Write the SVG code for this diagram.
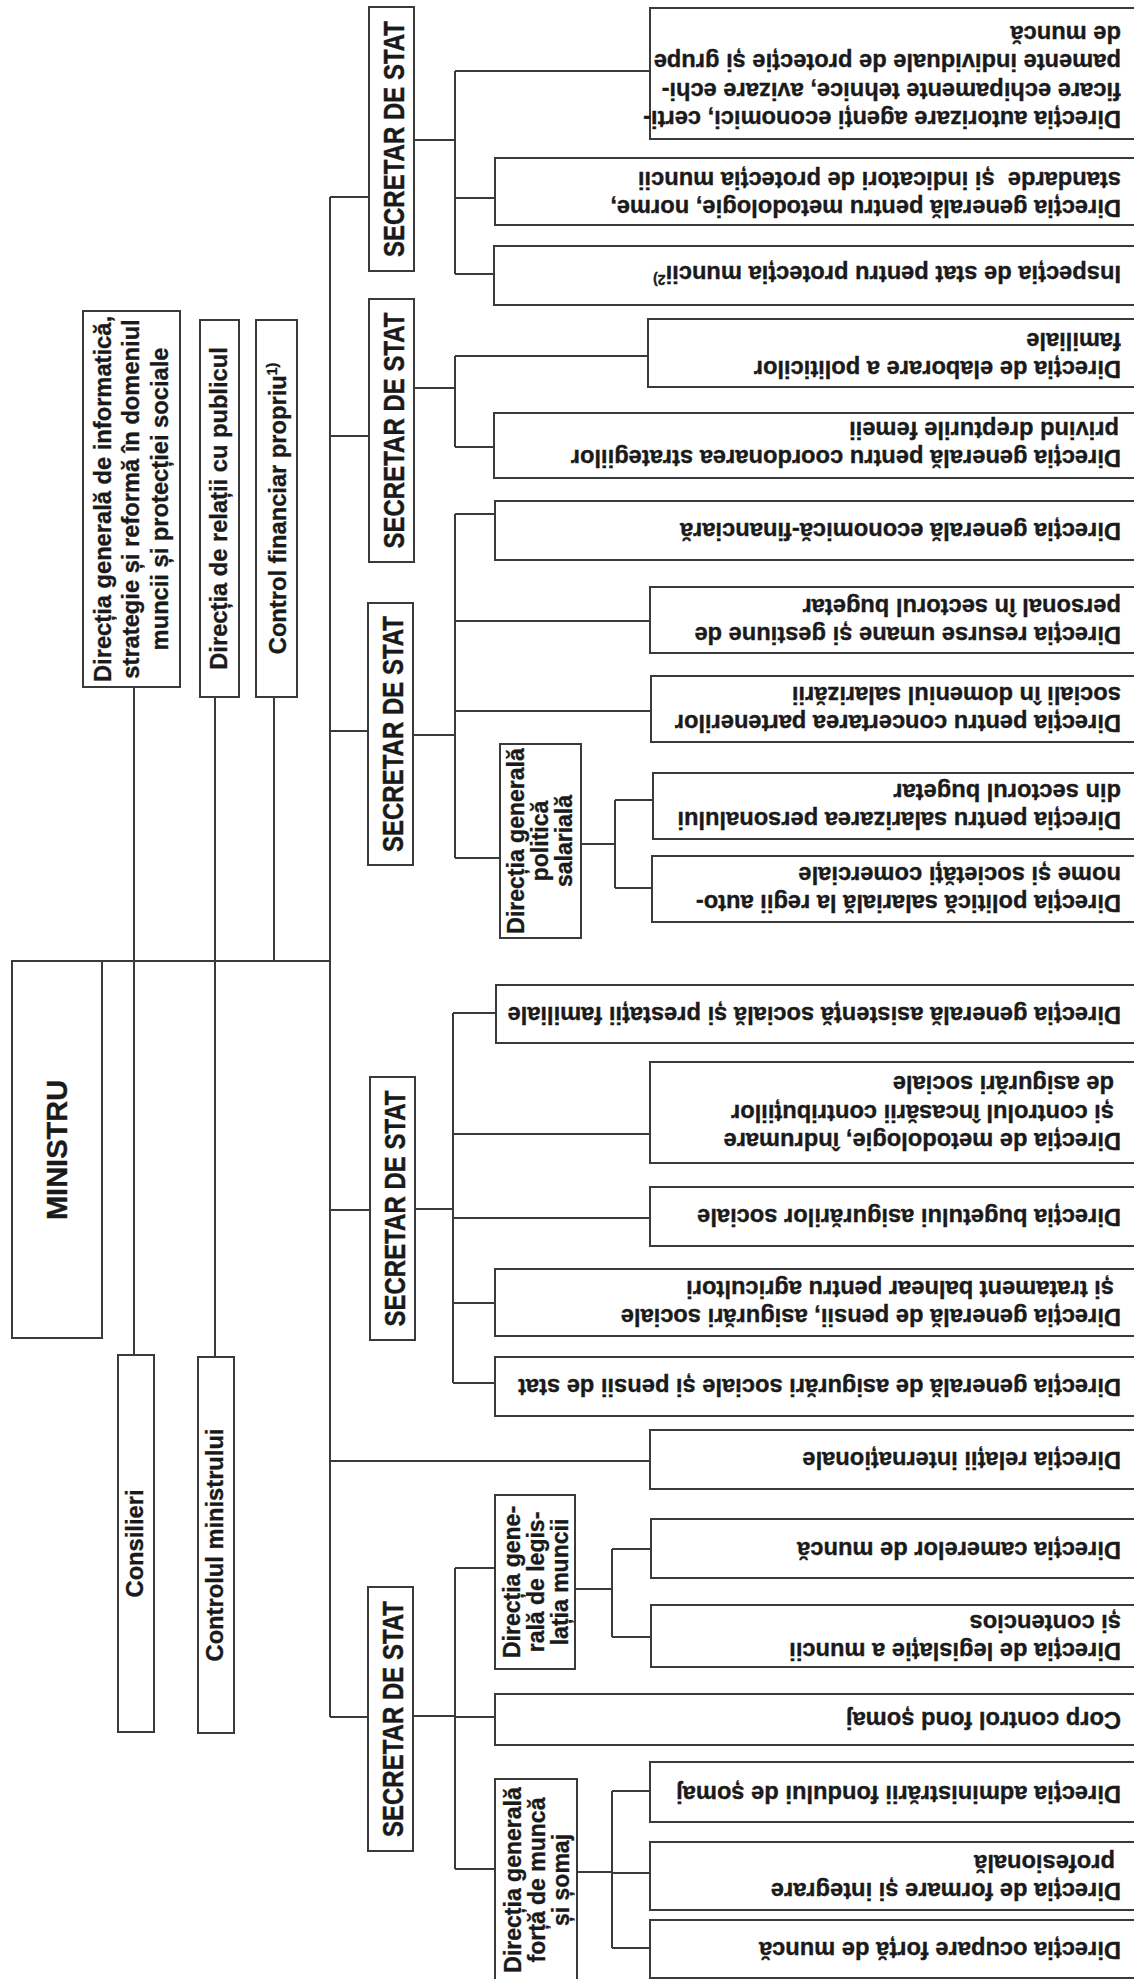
<svg xmlns="http://www.w3.org/2000/svg" width="1134" height="1979" viewBox="0 0 1134 1979">
<style>
.box{fill:#fff;stroke:#3a3a3a;stroke-width:2}
.ln{fill:none;stroke:#3a3a3a;stroke-width:2}
.t{font-family:"Liberation Sans",Arial,Helvetica,sans-serif;font-weight:bold;font-size:23.7px;fill:#1a1a1a;stroke:#1a1a1a;stroke-width:0.35px}
.m{text-anchor:middle}
.ss{font-size:24px}
.mn{font-size:29px}
.n{font-size:23px}
.sup{font-size:14px}
</style>
<rect width="1134" height="1979" fill="#fff"/>
<g id="connectors" class="ln">
<path d="M330 197V1717M330 197H369M330 436H369M330 731H368M330 1210H370M330 1461H650M330 1717H368"/>
<path d="M102 961H330M134 687V1355M215 697V1357M274 697V961"/>
<path d="M414 140H455M455 71V274M455 71H650M455 198H495M455 274H494"/>
<path d="M414 388H455M455 356V447M455 356H648M455 447H494"/>
<path d="M413 735H455M455 514V858M455 514H495M455 621H650M455 711H651M455 858H500"/>
<path d="M581 844H615M615 800V888M615 800H653M615 888H652"/>
<path d="M415 1209H453M453 1013V1383M453 1013H496M453 1134H650M453 1218H650M453 1303H495M453 1383H495"/>
<path d="M413 1716H455M455 1568V1869M455 1568H495M455 1717H495M455 1869H495"/>
<path d="M575 1589H612M612 1549V1637M612 1549H651M612 1637H651"/>
<path d="M577 1872H612M612 1791V1948M612 1791H650M612 1873H650M612 1948H650"/>
</g>
<g id="ministru"><rect class="box" x="12" y="961" width="90" height="377"/><text class="t m mn" transform="translate(67,1150) rotate(-90)">MINISTRU</text></g>
<g id="informatica"><rect class="box" x="83" y="311" width="97" height="376"/><text class="t m" transform="translate(110.5,499) rotate(-90)"><tspan x="0" y="0">Direcția generală de informatică,</tspan><tspan x="0" dy="28.5">strategie și reformă în domeniul</tspan><tspan x="0" dy="28.5">muncii și protecției sociale</tspan></text></g>
<g id="relatii-public"><rect class="box" x="200" y="320" width="39" height="377"/><text class="t m" transform="translate(227,508.5) rotate(-90)">Direcția de relații cu publicul</text></g>
<g id="control-financiar"><rect class="box" x="256" y="320" width="41" height="377"/><text class="t m" transform="translate(286,508.5) rotate(-90)">Control financiar propriu<tspan class="sup" dy="-9">1)</tspan></text></g>
<g id="consilieri"><rect class="box" x="118" y="1355" width="36" height="377"/><text class="t m" transform="translate(142.5,1543.5) rotate(-90)">Consilieri</text></g>
<g id="controlul"><rect class="box" x="198" y="1357" width="36" height="376"/><text class="t m" transform="translate(222.5,1545) rotate(-90)">Controlul ministrului</text></g>
<g id="ss1"><rect class="box" x="369" y="7" width="45" height="264"/><text class="t m ss" transform="translate(404,139) rotate(-90) scale(1,1.22)">SECRETAR DE STAT</text></g>
<g id="ss2"><rect class="box" x="369" y="299" width="45" height="263"/><text class="t m ss" transform="translate(404,430.5) rotate(-90) scale(1,1.22)">SECRETAR DE STAT</text></g>
<g id="ss3"><rect class="box" x="368" y="603" width="45" height="262"/><text class="t m ss" transform="translate(403,734) rotate(-90) scale(1,1.22)">SECRETAR DE STAT</text></g>
<g id="ss4"><rect class="box" x="370" y="1077" width="45" height="263"/><text class="t m ss" transform="translate(405,1208.5) rotate(-90) scale(1,1.22)">SECRETAR DE STAT</text></g>
<g id="ss5"><rect class="box" x="368" y="1587" width="45" height="264"/><text class="t m ss" transform="translate(403,1719) rotate(-90) scale(1,1.22)">SECRETAR DE STAT</text></g>
<g id="dg-politica-salariala"><rect class="box" x="500" y="744" width="81" height="194"/><text class="t m n" transform="translate(523.5,841) rotate(-90)"><tspan x="0" y="0">Direcția generală</tspan><tspan x="0" dy="24">politică</tspan><tspan x="0" dy="24">salarială</tspan></text></g>
<g id="dg-legislatia-muncii"><rect class="box" x="495" y="1495" width="80" height="174"/><text class="t m n" transform="translate(520,1582) rotate(-90)"><tspan x="0" y="0">Direcția gene-</tspan><tspan x="0" dy="24">rală de legis-</tspan><tspan x="0" dy="24">lația muncii</tspan></text></g>
<g id="dg-forta-munca"><rect class="box" x="495" y="1779" width="82" height="210"/><text class="t m n" transform="translate(521,1880) rotate(-90)"><tspan x="0" y="0">Direcția generală</tspan><tspan x="0" dy="24">forță de muncă</tspan><tspan x="0" dy="24">și șomaj</tspan></text></g>
<g id="autorizare"><rect class="box" x="650" y="8" width="500" height="131"/><text class="t" transform="translate(1121,111) rotate(180)"><tspan x="0" y="0">Direcția autorizare agenți economici, certi-</tspan><tspan x="0" dy="28.5">ficare echipamente tehnice, avizare echi-</tspan><tspan x="0" dy="28.5">pamente individuale de protecție și grupe</tspan><tspan x="0" dy="28.5">de muncă</tspan></text></g>
<g id="metodologie-norme"><rect class="box" x="495" y="158" width="660" height="67"/><text class="t" xml:space="preserve" transform="translate(1121,200) rotate(180)"><tspan x="0" y="0">Direcția generală pentru metodologie, norme,</tspan><tspan x="0" dy="28.5">standarde  și indicatori de protecția muncii</tspan></text></g>
<g id="inspectia"><rect class="box" x="494" y="246" width="660" height="59"/><text class="t" transform="translate(1121,266) rotate(180)">Inspecția de stat pentru protecția muncii<tspan class="sup" dy="-9">2)</tspan></text></g>
<g id="elaborare"><rect class="box" x="648" y="319" width="500" height="68"/><text class="t" transform="translate(1121,361) rotate(180)"><tspan x="0" y="0">Direcția de elaborare a politicilor</tspan><tspan x="0" dy="28.5">familiale</tspan></text></g>
<g id="femeii"><rect class="box" x="494" y="413" width="660" height="65"/><text class="t" transform="translate(1121,450) rotate(180)"><tspan x="0" y="0">Direcția generală pentru coordonarea strategiilor</tspan><tspan x="2" dy="28.5">privind drepturile femeii</tspan></text></g>
<g id="economica"><rect class="box" x="495" y="501" width="660" height="59"/><text class="t" transform="translate(1121,523) rotate(180)">Direcția generală economică-financiară</text></g>
<g id="resurse-umane"><rect class="box" x="650" y="587" width="500" height="66"/><text class="t" transform="translate(1121,627) rotate(180)"><tspan x="0" y="0">Direcția resurse umane și gestiune de</tspan><tspan x="0" dy="28.5">personal în sectorul bugetar</tspan></text></g>
<g id="concertare"><rect class="box" x="651" y="676" width="500" height="66"/><text class="t" transform="translate(1121,715) rotate(180)"><tspan x="0" y="0">Direcția pentru concertarea partenerilor</tspan><tspan x="0" dy="28.5">sociali în domeniul salarizării</tspan></text></g>
<g id="salarizare"><rect class="box" x="653" y="773" width="500" height="66"/><text class="t" transform="translate(1121,812) rotate(180)"><tspan x="0" y="0">Direcția pentru salarizarea personalului</tspan><tspan x="0" dy="28.5">din sectorul bugetar</tspan></text></g>
<g id="regii"><rect class="box" x="652" y="856" width="500" height="66"/><text class="t" transform="translate(1121,895) rotate(180)"><tspan x="0" y="0">Direcția politică salarială la regii auto-</tspan><tspan x="0" dy="28.5">nome și societăți comerciale</tspan></text></g>
<g id="asistenta"><rect class="box" x="496" y="985" width="660" height="58"/><text class="t" transform="translate(1121,1007) rotate(180)">Direcția generală asistență socială și prestații familiale</text></g>
<g id="indrumare"><rect class="box" x="650" y="1062" width="500" height="101"/><text class="t" transform="translate(1121,1133) rotate(180)"><tspan x="0" y="0">Direcția de metodologie, îndrumare</tspan><tspan x="7" dy="28.5">și controlul încasării contribuțiilor</tspan><tspan x="7" dy="28.5">de asigurări sociale</tspan></text></g>
<g id="bugetului"><rect class="box" x="650" y="1187" width="500" height="59"/><text class="t" transform="translate(1121,1209) rotate(180)">Direcția bugetului asigurărilor sociale</text></g>
<g id="pensii"><rect class="box" x="495" y="1269" width="660" height="67"/><text class="t" transform="translate(1121,1309) rotate(180)"><tspan x="0" y="0">Direcția generală de pensii, asigurări sociale</tspan><tspan x="7" dy="28.5">și tratament balnear pentru agricultori</tspan></text></g>
<g id="asigurari"><rect class="box" x="495" y="1357" width="660" height="59"/><text class="t" transform="translate(1121,1379) rotate(180)">Direcția generală de asigurări sociale și pensii de stat</text></g>
<g id="relatii-internationale"><rect class="box" x="650" y="1430" width="500" height="59"/><text class="t" transform="translate(1121,1452) rotate(180)">Direcția relații internaționale</text></g>
<g id="camerelor"><rect class="box" x="651" y="1519" width="500" height="59"/><text class="t" transform="translate(1121,1542) rotate(180)">Direcția camerelor de muncă</text></g>
<g id="legislatie"><rect class="box" x="651" y="1605" width="500" height="62"/><text class="t" transform="translate(1121,1643) rotate(180)"><tspan x="0" y="0">Direcția de legislație a muncii</tspan><tspan x="0" dy="28.5">și contencios</tspan></text></g>
<g id="corp-control"><rect class="box" x="495" y="1694" width="660" height="51"/><text class="t" transform="translate(1121,1712) rotate(180)">Corp control fond șomaj</text></g>
<g id="administrare"><rect class="box" x="650" y="1762" width="500" height="60"/><text class="t" transform="translate(1121,1786) rotate(180)">Direcția administrării fondului de șomaj</text></g>
<g id="formare"><rect class="box" x="650" y="1842" width="500" height="68"/><text class="t" transform="translate(1121,1883) rotate(180)"><tspan x="0" y="0">Direcția de formare și integrare</tspan><tspan x="6" dy="28.5">profesională</tspan></text></g>
<g id="ocupare"><rect class="box" x="650" y="1920" width="500" height="58"/><text class="t" transform="translate(1121,1942) rotate(180)">Direcția ocupare forță de muncă</text></g>
</svg>
